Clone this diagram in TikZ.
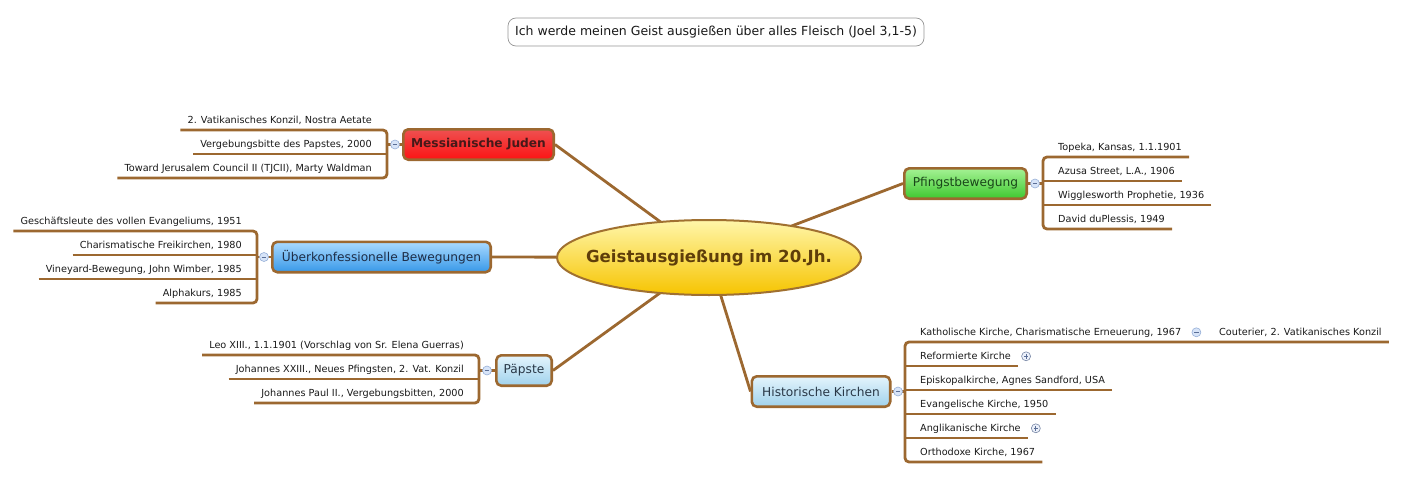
\documentclass[tikz,border=0pt]{standalone}
\usepackage{fontspec}
\setmainfont{DejaVu Sans}
\usetikzlibrary{shapes.geometric,calc}
\definecolor{conn}{RGB}{156,104,48}
\definecolor{leaftext}{RGB}{25,25,25}
\definecolor{cbord}{RGB}{150,175,215}
\definecolor{cfill}{RGB}{215,228,248}
\definecolor{csign}{RGB}{90,110,150}
\definecolor{pbord}{RGB}{120,135,165}
\definecolor{pfill}{RGB}{235,240,250}
\definecolor{redT}{RGB}{238,80,80}
\definecolor{redB}{RGB}{252,20,20}
\definecolor{redTx}{RGB}{70,25,25}
\definecolor{bluT}{RGB}{170,218,255}
\definecolor{bluB}{RGB}{55,152,232}
\definecolor{bluTx}{RGB}{30,45,70}
\definecolor{lbT}{RGB}{228,244,252}
\definecolor{lbB}{RGB}{160,210,236}
\definecolor{lbTx}{RGB}{40,55,70}
\definecolor{grT}{RGB}{165,242,148}
\definecolor{grB}{RGB}{62,200,48}
\definecolor{grTx}{RGB}{25,70,25}
\definecolor{yeT}{RGB}{255,246,170}
\definecolor{yeB}{RGB}{246,196,0}
\definecolor{yeTx}{RGB}{95,62,10}
\definecolor{yeBd}{RGB}{160,112,48}
\definecolor{ttlBd}{RGB}{150,150,150}
\begin{document}
\begin{tikzpicture}[x=1pt,y=-1pt,
  lnk/.style={draw=conn, line width=2.8pt},
  brk/.style={lnk, rounded corners=4pt},
  branch/.style={draw=conn, line width=2.6pt, rounded corners=5pt, minimum height=30.4pt, inner sep=0pt, font=\fontsize{12.2}{14}\selectfont},
  leaf/.style={font=\fontsize{9.7}{11}\selectfont, text=leaftext, text height=7.5pt, text depth=2.5pt, inner xsep=7pt, inner ysep=4pt},
  leafL/.style={leaf, anchor=south east},
  leafR/.style={leaf, anchor=south west},
  colps/.style={circle, draw=cbord, fill=cfill, line width=0.6pt, minimum size=9pt, inner sep=0pt,
    path picture={\draw[line width=0.8pt, draw=csign] ([xshift=-2.3pt]path picture bounding box.center) -- ([xshift=2.3pt]path picture bounding box.center);}},
  expd/.style={circle, draw=pbord, fill=pfill, line width=0.6pt, minimum size=9pt, inner sep=0pt,
    path picture={\draw[line width=0.8pt, draw=csign] ([xshift=-2.3pt]path picture bounding box.center) -- ([xshift=2.3pt]path picture bounding box.center) ([yshift=-2.3pt]path picture bounding box.center) -- ([yshift=2.3pt]path picture bounding box.center);}},
]
\useasboundingbox (0,0) rectangle (1409,479);

% title
\node[draw=ttlBd, line width=0.7pt, rounded corners=8pt, fill=white, minimum width=416pt, minimum height=28pt, inner sep=0pt, font=\fontsize{12.5}{14}\selectfont, text=leaftext] (ttl) at (716,32) {Ich werde meinen Geist ausgießen über alles Fleisch (Joel 3,1-5)};

% branch nodes
\node[branch, top color=redT, bottom color=redB, text=redTx, font=\fontsize{12.2}{14}\selectfont\bfseries, minimum width=150.4pt] (mj) at (478.5,144.5) {Messianische Juden};
\node[branch, top color=bluT, bottom color=bluB, text=bluTx, minimum width=218.4pt] (ub) at (381.5,257) {Überkonfessionelle Bewegungen};
\node[branch, top color=lbT, bottom color=lbB, text=lbTx, minimum width=55.4pt] (pa) at (524,370.5) {Päpste};
\node[branch, top color=grT, bottom color=grB, text=grTx, minimum width=122.4pt] (pf) at (965.5,183.5) {Pfingstbewegung};
\node[branch, top color=lbT, bottom color=lbB, text=lbTx, minimum width=138.4pt] (hk) at (821,391.5) {Historische Kirchen};

% centre of the central node
\path (709,257.5) coordinate (ellc);

% main connectors
\draw[lnk] (mj.east) -- (ellc);
\draw[lnk] (ub.east) -- (ellc);
\draw[lnk] (pa.east) -- (ellc);
\draw[lnk] (pf.west) -- (ellc);
\draw[lnk] (hk.west) -- (ellc);

\node[ellipse, draw=yeBd, line width=2pt, top color=yeT, bottom color=yeB, minimum width=304pt, minimum height=75pt, inner sep=0pt, text=yeTx, font=\fontsize{16.6}{18}\selectfont\bfseries] (ell) at (ellc) {\makebox[0pt][c]{Geistausgießung im 20.Jh.}};

% Messianische Juden leaves
\node[leafL] (mj1) at (379,130) {2. Vatikanisches Konzil, Nostra Aetate};
\node[leafL] (mj2) at (379,154) {Vergebungsbitte des Papstes, 2000};
\node[leafL] (mj3) at (379,178) {Toward Jerusalem Council II (TJCII), Marty Waldman};
\coordinate (mjB) at (387,144.5);
\draw[brk] (mj1.south west) -- (mj1.south west -| mjB) -- (mj3.south west -| mjB) -- (mj3.south west);
\draw[lnk] (mj2.south west) -- (mj2.south west -| mjB);
\draw[lnk] (mj.west) -- (mjB);
\node[colps] (mjC) at (395,144.5) {};

% Ueberkonfessionelle leaves
\node[leafL] (ub1) at (249,231) {Geschäftsleute des vollen Evangeliums, 1951};
\node[leafL] (ub2) at (249,255) {Charismatische Freikirchen, 1980};
\node[leafL] (ub3) at (249,279) {Vineyard-Bewegung, John Wimber, 1985};
\node[leafL] (ub4) at (249,303) {Alphakurs, 1985};
\coordinate (ubB) at (257,257);
\draw[brk] (ub1.south west) -- (ub1.south west -| ubB) -- (ub4.south west -| ubB) -- (ub4.south west);
\draw[lnk] (ub2.south west) -- (ub2.south west -| ubB);
\draw[lnk] (ub3.south west) -- (ub3.south west -| ubB);
\draw[lnk] (ub.west) -- (ubB);
\node[colps] (ubC) at (264,257) {};

% Paepste leaves
\node[leafL] (pa1) at (471,355) {Leo XIII., 1.1.1901 (Vorschlag von Sr. Elena Guerras)};
\node[leafL] (pa2) at (471,379) {Johannes XXIII., Neues Pfingsten, 2. Vat. Konzil};
\node[leafL] (pa3) at (471,403) {Johannes Paul II., Vergebungsbitten, 2000};
\coordinate (paB) at (479,370.5);
\draw[brk] (pa1.south west) -- (pa1.south west -| paB) -- (pa3.south west -| paB) -- (pa3.south west);
\draw[lnk] (pa2.south west) -- (pa2.south west -| paB);
\draw[lnk] (pa.west) -- (paB);
\node[colps] (paC) at (487,370.5) {};

% Pfingstbewegung leaves
\node[leafR] (pf1) at (1051,157) {Topeka, Kansas, 1.1.1901};
\node[leafR] (pf2) at (1051,181) {Azusa Street, L.A., 1906};
\node[leafR] (pf3) at (1051,205) {Wigglesworth Prophetie, 1936};
\node[leafR] (pf4) at (1051,229) {David duPlessis, 1949};
\coordinate (pfB) at (1043,183.5);
\draw[brk] (pf1.south east) -- (pf1.south east -| pfB) -- (pf4.south east -| pfB) -- (pf4.south east);
\draw[lnk] (pf2.south east) -- (pf2.south east -| pfB);
\draw[lnk] (pf3.south east) -- (pf3.south east -| pfB);
\draw[lnk] (pf.east) -- (pfB);
\node[colps] (pfC) at (1035,183.5) {};

% Historische Kirchen leaves
\node[leafR] (hk1) at (913,342) {Katholische Kirche, Charismatische Erneuerung, 1967};
\node[leafR] (hk2) at (913,366) {Reformierte Kirche};
\node[leafR] (hk3) at (913,390) {Episkopalkirche, Agnes Sandford, USA};
\node[leafR] (hk4) at (913,414) {Evangelische Kirche, 1950};
\node[leafR] (hk5) at (913,438) {Anglikanische Kirche};
\node[leafR] (hk6) at (913,462) {Orthodoxe Kirche, 1967};
\node[leafR] (hk1a) at (1212,342) {Couterier, 2. Vatikanisches Konzil};
\coordinate (hkB) at (905,391.5);
\draw[brk] (hk1a.south east) -- (hk1.south east) -- (hk1.south east -| hkB) -- (hk6.south east -| hkB) -- (hk6.south east);
\foreach \n in {hk2,hk3,hk4,hk5} \draw[lnk] (\n.south east) -- (\n.south east -| hkB);
\draw[lnk] (hk.east) -- (hkB);
\node[colps] (hkC) at (898,391.5) {};
\node[colps] (hk1C) at ([xshift=8pt,yshift=0.5pt]hk1.east) {};
\node[expd] (hk2E) at ([xshift=8pt,yshift=0.5pt]hk2.east) {};
\node[expd] (hk5E) at ([xshift=8pt,yshift=0.5pt]hk5.east) {};
\end{tikzpicture}
\end{document}
